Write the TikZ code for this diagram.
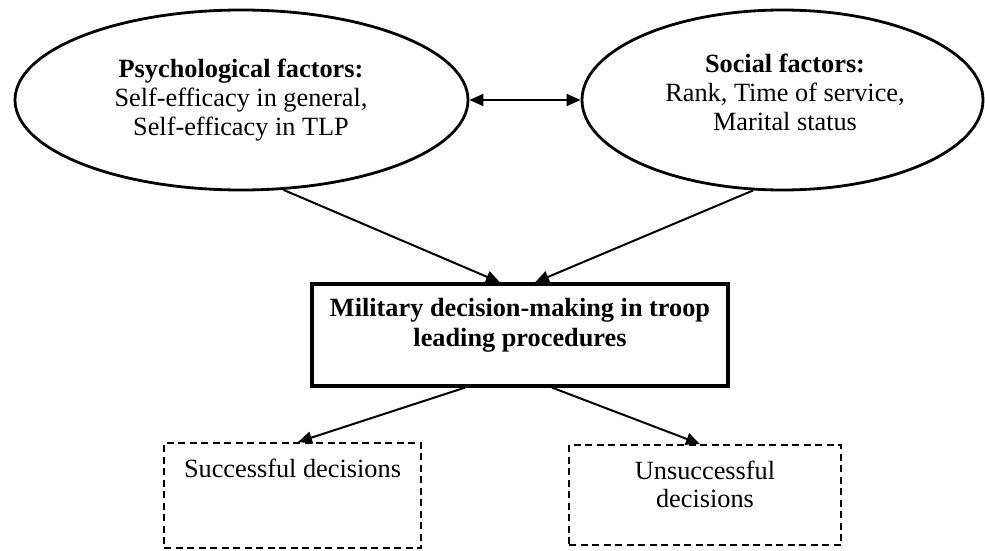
\documentclass[tikz,border=0pt]{standalone}
\usepackage{fontspec}
\setmainfont{Liberation Serif}
\usetikzlibrary{shapes.geometric,arrows.meta,calc}
\tikzset{
  factor/.style={ellipse, draw, line width=2.8pt, inner sep=0pt},
  mainbox/.style={rectangle, draw, line width=3.2pt, inner sep=0pt},
  outcome/.style={rectangle, draw, line width=2pt, dash pattern=on 7pt off 4.5pt, inner sep=0pt},
  txt/.style={align=center, inner sep=0pt, font=\fontsize{26.3}{29}\selectfont},
  conn/.style={line width=2pt, -{Triangle[length=14pt,width=12pt]}},
  dconn/.style={line width=2pt, {Triangle[length=14pt,width=12pt]}-{Triangle[length=14pt,width=12pt]}}
}
\begin{document}
\begin{tikzpicture}[x=1pt,y=-1pt]
\useasboundingbox (0,0) rectangle (985,551);
% ellipses
\node[factor, minimum width=453pt, minimum height=180pt] (psy) at (241.5,100) {};
\node[factor, minimum width=401pt, minimum height=180pt] (soc) at (782.5,100) {};
\node[txt] (psyt) at (241,100) {\textbf{Psychological factors:}\\Self-efficacy in general,\\Self-efficacy in TLP};
\node[txt] (soct) at (785,92.5) {\textbf{Social factors:}\\Rank, Time of service,\\Marital status};
% main box
\node[mainbox, minimum width=416pt, minimum height=102pt] (box) at (520,335) {};
\node[txt, font=\fontsize{26.3}{30}\selectfont\bfseries] (boxt) at (520,325) {Military decision-making in troop\\leading procedures};
% outcome boxes
\node[outcome, minimum width=257pt, minimum height=105pt] (succ) at (292.5,495.5) {};
\node[outcome, minimum width=272pt, minimum height=100pt] (unsucc) at (705,495) {};
\node[txt] (succt) at (292.5,468) {Successful decisions};
\node[txt, font=\fontsize{26.3}{28}\selectfont] (unsucct) at (705,484) {Unsuccessful\\decisions};
% connectors
\draw[dconn] (psy.east) -- (soc.west);
\draw[conn] (psy.-65) -- ($(box.north)+(-20,0)$);
\draw[conn] (soc.-108.6) -- ($(box.north)+(15,0)$);
\draw[conn] ($(box.south)+(-55,0)$) -- ($(succ.north)+(5.5,0)$);
\draw[conn] ($(box.south)+(32,0)$) -- ($(unsucc.north)+(-5,0)$);
\end{tikzpicture}
\end{document}
